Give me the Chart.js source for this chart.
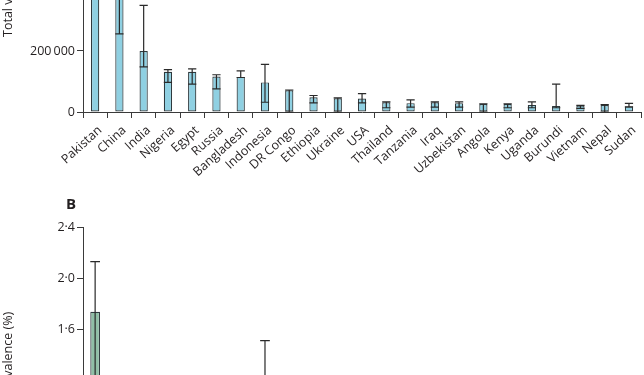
<!DOCTYPE html>
<html>
<head>
<meta charset="utf-8">
<script src="https://cdn.jsdelivr.net/npm/chart.js@4/dist/chart.umd.min.js"></script>
<style>
  html, body { margin: 0; padding: 0; background: #ffffff; }
  body { width: 644px; height: 375px; overflow: hidden; position: relative; }
  canvas { position: absolute; left: 0; }
  #chartA { top: -189px; }
  #chartB { top: 217px; }
  #labelB {
    position: absolute; left: 66px; top: 196px;
    font: bold 15px "Open Sans", sans-serif; line-height: 14px; color: #231f20;
  }
</style>
</head>
<body>
<canvas id="chartA" width="644" height="391"></canvas>
<div id="labelB">B</div>
<canvas id="chartB" width="644" height="408"></canvas>

<script>
// Panel A: total viraemic infections by country
const countriesA = ["Pakistan", "China", "India", "Nigeria", "Egypt", "Russia", "Bangladesh",
    "Indonesia", "DR Congo", "Ethiopia", "Ukraine", "USA", "Thailand", "Tanzania", "Iraq",
    "Uzbekistan", "Angola", "Kenya", "Uganda", "Burundi", "Vietnam", "Nepal", "Sudan"];
const totalViraemic = [700000, 420000, 200000, 132000, 132000, 116000, 115000, 97000, 71000,
    48000, 45000, 44000, 32000, 29000, 32000, 29000, 26000, 26000, 23000, 20000, 21000, 23000, 18000];
const totalLow = [520000, 256000, 148000, 97000, 91000, 76000, 113000, 32000, 0,
    30000, 0, 30000, 14000, 16000, 16000, 16000, 0, 14000, 14000, 14000, 12000, 0, 17000];
const totalHigh = [900000, 600000, 349000, 139000, 141000, 122000, 135000, 156000, 72000,
    54000, 46000, 60000, 33000, 40000, 33000, 33000, 27000, 27000, 33000, 91000, 22000, 24000, 28000];
const ticksA = { max: 955000, step: 200000 };

// Panel B: viraemic prevalence (%) by country
const countriesB = ["Pakistan", "Ukraine", "Russia", "Egypt", "Uzbekistan", "Thailand", "Nepal",
    "Burundi", "Bangladesh", "Iraq", "Angola", "DR Congo", "Nigeria", "Indonesia", "Kenya",
    "Ethiopia", "Tanzania", "Uganda", "Sudan", "Vietnam", "USA", "China", "India"];
const prevalence = [1.74, 0.56, 0.39, 0.34, 0.30, 0.24, 0.22, 0.21, 0.19, 0.18, 0.17, 0.16,
    0.13, 0.11, 0.11, 0.10, 0.10, 0.10, 0.09, 0.08, 0.06, 0.05, 0.04];
const prevLow = [0.9, 0.3, 0.26, 0.23, 0.17, 0.1, 0.1, 0.15, 0.18, 0.09, 0.1, 0.1,
    0.1, 0.04, 0.06, 0.06, 0.05, 0.06, 0.08, 0.05, 0.04, 0.03, 0.03];
const prevHigh = [2.13, 0.58, 0.41, 0.36, 0.33, 0.25, 0.23, 1.515, 0.22, 0.19, 0.18, 0.17,
    0.14, 0.18, 0.12, 0.12, 0.14, 0.15, 0.14, 0.09, 0.08, 0.07, 0.07];
const ticksB = { max: 2.4, step: 0.4 };

const FONT = "'Open Sans', 'DejaVu Sans', sans-serif";
const INK = "#231f20";
const AXIS = "#3a3a3a";

// draws the error bars over each bar
const errorBars = {
    id: "errorBars",
    afterDatasetsDraw(chart) {
        const ctx = chart.ctx;
        const y = chart.scales.y;
        chart.data.datasets.forEach((ds, i) => {
            const meta = chart.getDatasetMeta(i);
            meta.data.forEach((bar, j) => {
                const half = bar.width / 2;
                const yLo = y.getPixelForValue(ds.errLow[j]);
                const yHi = y.getPixelForValue(ds.errHigh[j]);
                ctx.save();
                ctx.strokeStyle = "#2a2a2a";
                ctx.lineWidth = 1.2;
                ctx.beginPath();
                ctx.moveTo(bar.x, yLo);
                ctx.lineTo(bar.x, yHi);
                ctx.moveTo(bar.x - half, yHi);
                ctx.lineTo(bar.x + half, yHi);
                ctx.moveTo(bar.x - half, yLo);
                ctx.lineTo(bar.x + half, yLo);
                ctx.stroke();
                ctx.restore();
            });
        });
    }
};

function buildChart(id, labels, values, low, high, ticks, color, barPct, title, fmt, padTop) {
    return new Chart(document.getElementById(id), {
        type: "bar",
        data: {
            labels: labels,
            datasets: [{
                data: values,
                errLow: low,
                errHigh: high,
                backgroundColor: color,
                borderColor: "#2f3a3e",
                borderWidth: 1.2,
                borderSkipped: false,
                barPercentage: barPct,
                categoryPercentage: 1
            }]
        },
        options: {
            responsive: false,
            animation: false,
            layout: { padding: { top: padTop, right: 0, left: 0, bottom: 0 } },
            plugins: { legend: { display: false }, tooltip: { enabled: false } },
            scales: {
                x: {
                    afterFit: s => { s.height = 90; },
                    grid: { drawOnChartArea: false, drawTicks: true, tickLength: 6, color: AXIS, offset: true },
                    border: { color: AXIS, width: 1 },
                    ticks: {
                        autoSkip: false, minRotation: 42, maxRotation: 42,
                        padding: 5, labelOffset: 5, color: INK,
                        font: { family: FONT, size: 12.5 }
                    }
                },
                y: {
                    min: 0,
                    max: ticks.max,
                    afterFit: s => { s.width = 83; },
                    // keep only whole steps below the (uneven) axis top
                    afterBuildTicks: s => {
                        const list = [];
                        for (let v = 0; v <= ticks.max + 1e-9; v += ticks.step) list.push({ value: v });
                        s.ticks = list;
                    },
                    grid: { drawOnChartArea: false, drawTicks: true, tickLength: 6, color: AXIS },
                    border: { color: AXIS, width: 1 },
                    ticks: {
                        padding: 2, color: INK,
                        font: { family: FONT, size: 12.5 },
                        callback: fmt
                    },
                    title: {
                        display: true, text: title, color: INK,
                        font: { family: FONT, size: 12.5 },
                        padding: { top: 1, bottom: 0 }
                    }
                }
            }
        },
        plugins: [errorBars]
    });
}

buildChart("chartA", countriesA, totalViraemic, totalLow, totalHigh, ticksA, "#8fd0e2", 0.34,
    "Total viraemic infections",
    v => String(v).replace(/\B(?=(\d{3})+(?!\d))/g, "\u2009"), 5);

buildChart("chartB", countriesB, prevalence, prevLow, prevHigh, ticksB, "#8fbfa6", 0.4,
    "Viraemic prevalence (%)",
    v => v.toFixed(1).replace(".", "\u00b7"), 10);
</script>
</body>
</html>
